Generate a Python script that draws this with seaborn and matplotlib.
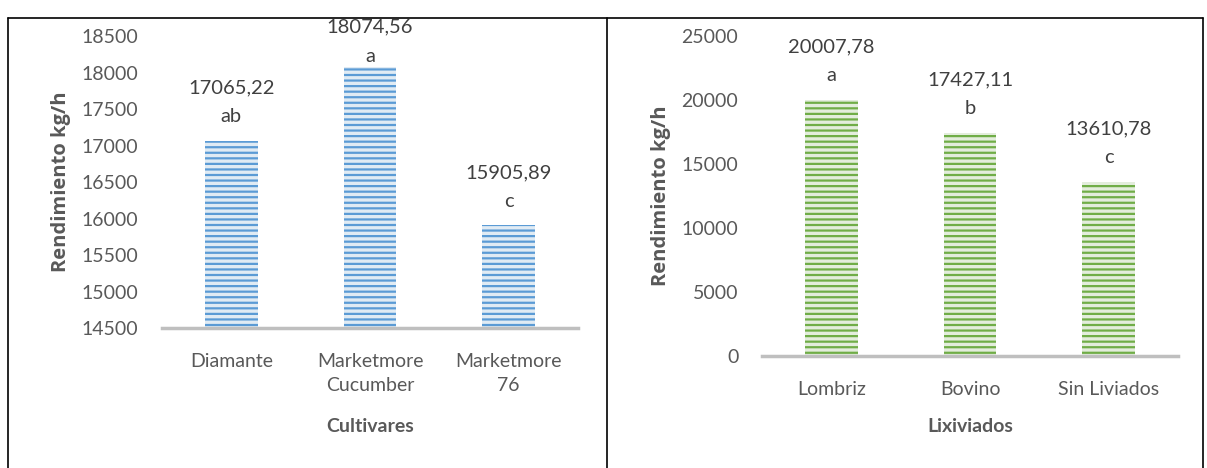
import pandas as pd
import matplotlib.pyplot as plt
import seaborn as sns
from matplotlib.lines import Line2D

# Data
cultivares = ['Diamante', 'Marketmore\nCucumber', 'Marketmore\n76']
rend_cult = [17065.22, 18074.56, 15905.89]
letras_cult = ['ab', 'a', 'c']

lixiviados = ['Lombriz', 'Bovino', 'Sin Liviados']
rend_lix = [20007.78, 17427.11, 13610.78]
letras_lix = ['a', 'b', 'c']

sns.set_style('white')
plt.rcParams['font.family'] = ['Lato', 'DejaVu Sans']
plt.rcParams['hatch.linewidth'] = 1.6

txt = '#404040'
tick_col = '#595959'
fs = 14

fig = plt.figure(figsize=(12.07, 4.68), dpi=100)
ax1 = fig.add_axes([0.1342, 0.2991, 0.3447, 0.6239])
ax2 = fig.add_axes([0.6313, 0.2393, 0.3447, 0.6838])

df1 = pd.DataFrame({'Cultivares': cultivares, 'Rendimiento': rend_cult})
df2 = pd.DataFrame({'Lixiviados': lixiviados, 'Rendimiento': rend_lix})

sns.barplot(data=df1, x='Cultivares', y='Rendimiento', ax=ax1, color='#DDEBF7', width=0.38, edgecolor='#5B9BD5', linewidth=0)
sns.barplot(data=df2, x='Lixiviados', y='Rendimiento', ax=ax2, color='#E2F0D9', width=0.38, edgecolor='#70AD47', linewidth=0)

for ax, stripe in [(ax1, '#5B9BD5'), (ax2, '#70AD47')]:
    for p in ax.patches:
        p.set_hatch('---')
        p.set_edgecolor(stripe)
        p.set_linewidth(0)

ax1.set_ylim(14500, 18500)
ax1.set_yticks(range(14500, 18501, 500))
ax2.set_ylim(0, 25000)
ax2.set_yticks(range(0, 25001, 5000))

fig_h = 468


def label_bars(ax, values, letters):
    for i, (v, l) in enumerate(zip(values, letters)):
        # pixel height of the bar top (from figure top)
        top_px = fig_h - ax.transData.transform((i, v))[1]
        # keep the value label inside the chart area, like Excel does
        shift = max(0, 27 - (top_px - 53))
        ax.annotate(f'{v:.2f}'.replace('.', ','), (i, v), xytext=(0, 53 - shift), textcoords='offset pixels',
                    ha='center', va='center', fontsize=14.5, color=txt)
        ax.annotate(l, (i, v), xytext=(0, 24 - shift), textcoords='offset pixels',
                    ha='center', va='center', fontsize=14.5, color=txt)


label_bars(ax1, rend_cult, letras_cult)
label_bars(ax2, rend_lix, letras_lix)

for ax, xl, ly in [(ax1, 'Cultivares', -0.336), (ax2, 'Lixiviados', -0.219)]:
    for s in ['top', 'right', 'left']:
        ax.spines[s].set_visible(False)
    ax.spines['bottom'].set_color('#BFBFBF')
    ax.spines['bottom'].set_linewidth(2.5)
    ax.tick_params(axis='y', length=0, pad=17, labelsize=fs, labelcolor=tick_col)
    ax.tick_params(axis='x', length=0, pad=18, labelsize=fs, labelcolor=tick_col)
    for t in ax.get_xticklabels():
        t.set_linespacing(1.5)
    ax.set_xlabel(xl, fontsize=fs, fontweight='bold', color=tick_col, va='center')
    ax.xaxis.set_label_coords(0.5, ly)
    ax.set_ylabel('Rendimiento kg/h', fontsize=14.5, fontweight='bold', color=tick_col,
                  family=['Open Sans', 'DejaVu Sans'], labelpad=8)
    ax.grid(False)
    ax.set_xlim(-0.5, 2.5)

# frame lines of the figure table
for (x0, x1, y0, y1) in [(0.0066, 0.9967, 0.9615, 0.9615), (0.0066, 0.0066, 0.0, 0.9615),
                         (0.503, 0.503, 0.0, 0.9615), (0.9967, 0.9967, 0.0, 0.9615)]:
    fig.add_artist(Line2D([x0, x1], [y0, y1], color='black', linewidth=1.2, transform=fig.transFigure))

fig.savefig('out.png', dpi=100)
